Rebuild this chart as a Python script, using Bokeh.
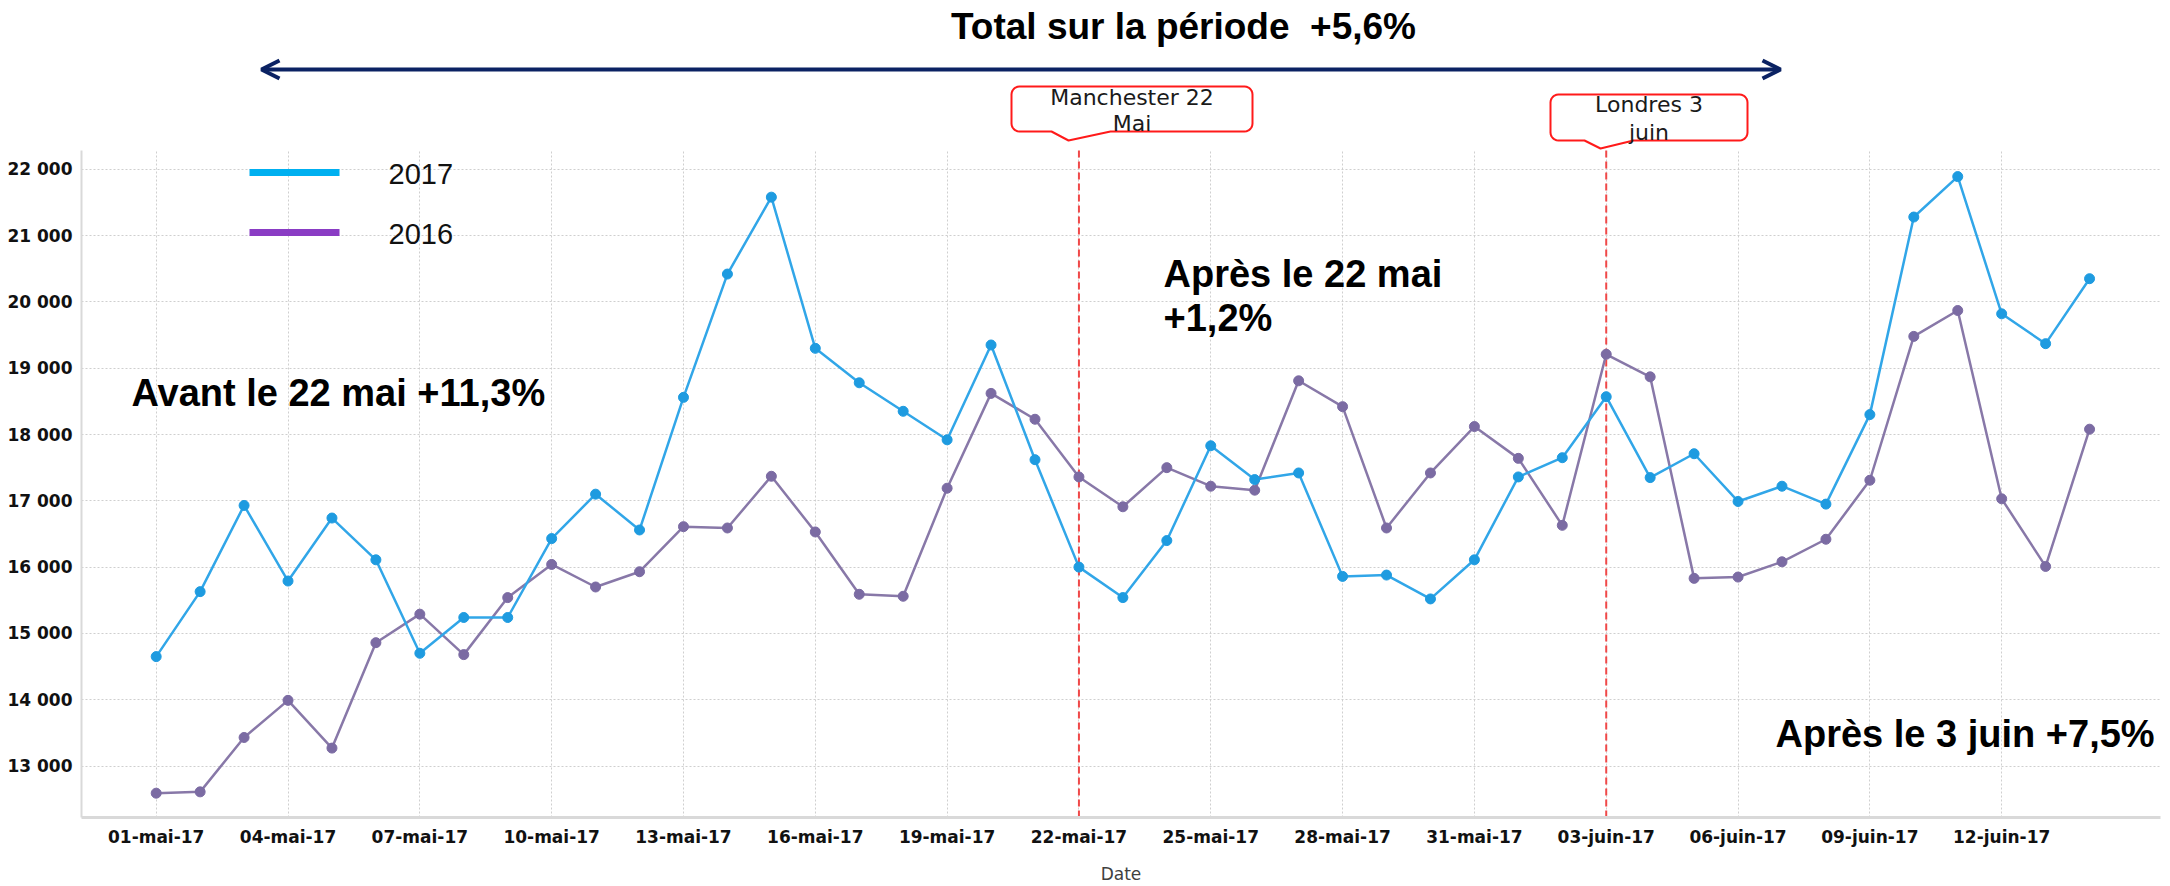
import math
from bokeh.plotting import figure
from bokeh.models import Range1d, FixedTicker, Arrow, OpenHead, Grid
from bokeh.core.properties import value
from bokeh.embed import file_html
from bokeh.resources import INLINE

# ---------------- data ----------------
dates = [f"{d:02d}-mai-17" for d in range(1, 32)] + [f"{d:02d}-juin-17" for d in range(1, 15)]

visits_2017 = [14650, 15630, 16930, 15790, 16740, 16110, 14700, 15240, 15240, 16430, 17100, 16560,
               18560, 20420, 21580, 19300, 18780, 18350, 17920, 19350, 17620, 16000, 15540, 16400,
               17830, 17320, 17420, 15860, 15880, 15520, 16110, 17360, 17650, 18570, 17350, 17710,
               16990, 17220, 16950, 18300, 21280, 21890, 19820, 19370, 20350]

visits_2016 = [12590, 12610, 13430, 13990, 13270, 14860, 15290, 14680, 15540, 16040, 15700, 15930,
               16610, 16590, 17370, 16530, 15590, 15560, 17190, 18620, 18230, 17360, 16910, 17500,
               17220, 17160, 18810, 18420, 16590, 17420, 18120, 17640, 16630, 19210, 18870, 15830,
               15850, 16080, 16420, 17310, 19480, 19870, 17030, 16010, 18080]

series_names = ["2017", "2016"]
y_ticks = [13000, 14000, 15000, 16000, 17000, 18000, 19000, 20000, 21000, 22000]
y_tick_labels = ["13 000", "14 000", "15 000", "16 000", "17 000", "18 000", "19 000", "20 000", "21 000", "22 000"]
x_tick_step = 3
events = ["22-mai-17", "03-juin-17"]
event_labels = ["Manchester 22\nMai", "Londres 3\njuin"]
period_notes = ["Avant le 22 mai +11,3%", "Après le 22 mai\n+1,2%", "Après le 3 juin +7,5%"]
title_text = "Total sur la période\u00a0 +5,6%"

# ---------------- layout helpers (page pixel -> data) ----------------
X0_PX, PX_DAY = 155.7, 43.94
Y22_PX, PX_UNIT = 168.8, 0.0663


def dx(px):
    return (px - X0_PX) / PX_DAY


def dy(py):
    return 22000 + (Y22_PX - py) / PX_UNIT


W, H = 2170, 886
FR_L, FR_R, FR_B = 81, 2160, 817
p = figure(width=W, height=H, output_backend="svg", toolbar_location=None,
           x_range=Range1d(dx(FR_L), dx(FR_R)), y_range=Range1d(dy(FR_B), dy(0)),
           min_border_left=FR_L, min_border_right=W - FR_R, min_border_top=0,
           min_border_bottom=H - FR_B)
p.outline_line_color = None
p.background_fill_color = "white"
p.border_fill_color = "white"

AX_TOP = dy(150)
AX_BOT = dy(FR_B)

for ax in (p.xaxis, p.yaxis):
    ax.major_tick_line_color = None
    ax.minor_tick_line_color = None
    ax.major_tick_out = 0
    ax.major_tick_in = 0
    ax.minor_tick_out = 0
    ax.minor_tick_in = 0
    ax.axis_line_color = "#D9D9D9"
    ax.major_label_text_font = "DejaVu Sans"
    ax.major_label_text_font_style = "bold"
    ax.major_label_text_font_size = "17px"
    ax.major_label_text_color = "#111111"

# y axis
p.yaxis.ticker = FixedTicker(ticks=y_ticks)
p.yaxis.major_label_overrides = dict(zip(y_ticks, y_tick_labels))
p.yaxis.bounds = (AX_BOT, AX_TOP)
p.yaxis.axis_line_width = 2
p.yaxis.major_label_standoff = 9

# x axis
x_ticks = list(range(0, len(dates), x_tick_step))
p.xaxis.ticker = FixedTicker(ticks=x_ticks)
p.xaxis.major_label_overrides = {i: dates[i] for i in x_ticks}
p.xaxis.axis_line_width = 3
p.xaxis.major_label_standoff = 9
p.xaxis.axis_label = "Date"
p.xaxis.axis_label_text_font = "DejaVu Sans"
p.xaxis.axis_label_text_font_style = "normal"
p.xaxis.axis_label_text_font_size = "17px"
p.xaxis.axis_label_text_color = "#404040"
p.xaxis.axis_label_standoff = 14

for g in (p.xgrid, p.ygrid):
    g.grid_line_color = "#CFCFCF"
    g.grid_line_dash = "2 2"
    g.grid_line_width = 1

if "cross_bounds" in Grid.properties():
    p.xgrid.cross_bounds = (AX_BOT, AX_TOP)
else:
    p.xgrid.grid_line_color = None
    p.segment(x0=x_ticks, x1=x_ticks, y0=[AX_BOT] * len(x_ticks), y1=[AX_TOP] * len(x_ticks),
              line_color="#CFCFCF", line_dash="2 2", line_width=1)

# event lines
for ev in events:
    i = dates.index(ev)
    p.segment(x0=[i], x1=[i], y0=[AX_BOT], y1=[dy(149)], line_color="#F04848",
              line_width=2, line_dash="7 4")

# series
x = list(range(len(dates)))
p.line(x, visits_2016, line_color="#8878A8", line_width=2.5)
p.scatter(x, visits_2016, size=10, fill_color="#7B6BA3", line_color="#7B6BA3")
p.line(x, visits_2017, line_color="#31A6E8", line_width=2.5)
p.scatter(x, visits_2017, size=10, fill_color="#1E9BE0", line_color="#1E9BE0")

# legend (manual, no frame)
legend_colors = ["#00B0F0", "#8A3CC4"]
legend_py = [172, 232]
for name, col, py in zip(series_names, legend_colors, legend_py):
    p.segment(x0=[dx(249)], x1=[dx(339)], y0=[dy(py)], y1=[dy(py)], line_color=col, line_width=7)
    p.text(x=[dx(388)], y=[dy(py + 1)], text=[name], text_font=value("Liberation Sans"),
           text_font_size="29px", text_baseline="middle", text_align="left", text_color="#111111")

# title + double arrow
p.text(x=[dx(1183)], y=[dy(26)], text=[title_text], text_font=value("Liberation Sans"),
       text_font_style="bold", text_font_size="37px", text_baseline="middle", text_align="center",
       text_color="black")
navy = "#0B2263"
p.add_layout(Arrow(start=OpenHead(size=18, line_color=navy, line_width=4),
                   end=OpenHead(size=18, line_color=navy, line_width=4),
                   x_start=dx(261), y_start=dy(69), x_end=dx(1780), y_end=dy(69),
                   line_color=navy, line_width=4))


# callouts
def callout_poly(l, t, r, b, rad, pl, tipx, tipy, pr):
    pts = []

    def arc(cx, cy, a0, a1, n=6):
        for k in range(n + 1):
            a = math.radians(a0 + (a1 - a0) * k / n)
            pts.append((cx + rad * math.cos(a), cy + rad * math.sin(a)))

    arc(l + rad, t + rad, 180, 270)
    arc(r - rad, t + rad, 270, 360)
    arc(r - rad, b - rad, 0, 90)
    pts.append((pr, b))
    pts.append((tipx, tipy))
    pts.append((pl, b))
    arc(l + rad, b - rad, 90, 180)
    return [dx(a) for a, _ in pts], [dy(c) for _, c in pts]


callout_boxes = [(1011, 86, 1252, 131, 8, 1051, 1068, 140, 1110),
                 (1550, 94, 1747, 140, 8, 1584, 1600, 148, 1633)]
callout_text_py = [(97, 123), (104, 132)]
for lab, box, tys in zip(event_labels, callout_boxes, callout_text_py):
    xs, ys = callout_poly(*box)
    p.patch(xs, ys, fill_color="white", line_color="#FF1A1A", line_width=2)
    cx = (box[0] + box[2]) / 2
    for line_txt, ty in zip(lab.split("\n"), tys):
        p.text(x=[dx(cx)], y=[dy(ty)], text=[line_txt], text_font=value("DejaVu Sans"),
               text_font_size="22px", text_baseline="middle", text_align="center", text_color="#1a1a1a")

# period notes
note_pos = [[(131, 392)], [(1163, 273), (1163, 317)], [(1775, 733)]]
for note, poss in zip(period_notes, note_pos):
    for line_txt, (px, py) in zip(note.split("\n"), poss):
        p.text(x=[dx(px)], y=[dy(py)], text=[line_txt], text_font=value("Liberation Sans"),
               text_font_style="bold", text_font_size="38px", text_baseline="middle",
               text_align="left", text_color="black")

open("out.html", "w").write(file_html(p, INLINE))
